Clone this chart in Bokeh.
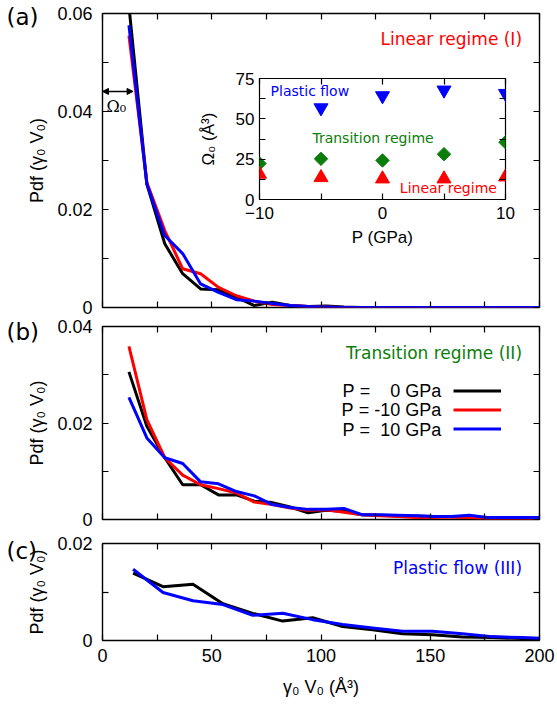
from bokeh.plotting import figure
from bokeh.layouts import column
from bokeh.models import (FixedTicker, LinearAxis, CustomJSTickFormatter, CustomLabelingPolicy,
                          Label, Arrow, NormalHead, Range1d, Legend, LegendItem)
from bokeh.core.properties import value
from bokeh.embed import file_html
from bokeh.resources import INLINE

# ---- panel (a) and (b): bin centres of gamma0*V0 (A^3) ----
gamma_ab = [12.1, 20.3, 28.5, 36.7, 44.9, 53.1, 61.3, 69.5, 77.7, 85.9, 94.1, 102.3,
            110.5, 118.7, 126.9, 135.1, 143.3, 151.5, 159.7, 167.9, 176.1, 184.3, 192.5, 200.7]

# (a) linear regime
pdf_a_p0 = [0.0615, 0.0252, 0.0130, 0.0069, 0.0038, 0.0036, 0.0021, 0.0004, 0.0011, 0.0004, 0.0002, 0.0003,
            0.0001, 0.0, 0.0, 0.0, 0.0, 0.0, 0.0, 0.0, 0.0, 0.0, 0.0, 0.0]
pdf_a_m10 = [0.0555, 0.0255, 0.0157, 0.0079, 0.0069, 0.0041, 0.0024, 0.0013, 0.0006, 0.0004, 0.0002, 0.0001,
             0.0, 0.0, 0.0, 0.0, 0.0, 0.0, 0.0, 0.0, 0.0, 0.0, 0.0, 0.0]
pdf_a_p10 = [0.0576, 0.0252, 0.0147, 0.0110, 0.0048, 0.0031, 0.0016, 0.0013, 0.0008, 0.0004, 0.0002, 0.0001,
             0.0, 0.0, 0.0, 0.0, 0.0, 0.0, 0.0, 0.0, 0.0, 0.0, 0.0, 0.0]

# (b) transition regime
pdf_b_p0 = [0.0306, 0.0193, 0.0128, 0.0072, 0.0072, 0.0051, 0.0051, 0.0038, 0.0035, 0.0026, 0.0014, 0.0019,
            0.0017, 0.0010, 0.0009, 0.0008, 0.0007, 0.0006, 0.0006, 0.0004, 0.0002, 0.0002, 0.0002, 0.0002]
pdf_b_m10 = [0.0359, 0.0207, 0.0128, 0.0092, 0.0072, 0.0064, 0.0055, 0.0036, 0.0031, 0.0024, 0.0019, 0.0020,
             0.0015, 0.0010, 0.0008, 0.0006, 0.0004, 0.0004, 0.0005, 0.0004, 0.0002, 0.0002, 0.0002, 0.0002]
pdf_b_p10 = [0.0253, 0.0169, 0.0128, 0.0116, 0.0078, 0.0074, 0.0058, 0.0049, 0.0031, 0.0025, 0.0021, 0.0021,
             0.0023, 0.0010, 0.0010, 0.0009, 0.0008, 0.0006, 0.0006, 0.0009, 0.0004, 0.0004, 0.0004, 0.0004]

# ---- panel (c): plastic flow ----
gamma_c = [14.0, 27.7, 41.4, 55.1, 68.8, 82.5, 96.2, 109.9, 123.6, 137.3, 151.0, 164.7, 178.4, 192.1, 205.8]
pdf_c_p0 = [0.0139, 0.0111, 0.0116, 0.0076, 0.0056, 0.0040, 0.0047, 0.0029, 0.0022, 0.0014, 0.0012,
            0.0007, 0.0006, 0.0004, 0.0003]
pdf_c_p10 = [0.0147, 0.0099, 0.0082, 0.0074, 0.0052, 0.0056, 0.0043, 0.0033, 0.0026, 0.0019, 0.0019,
             0.0014, 0.0008, 0.0006, 0.0004]

# ---- inset: Omega0 versus pressure ----
pressure = [-10, -5, 0, 5, 10]
omega_linear = [15.7, 13.6, 12.8, 12.8, 14.0]
omega_transition = [22.3, 25.2, 24.2, 28.1, 35.5]
pressure_plastic = [-5, 0, 5, 10]
omega_plastic = [56.8, 64.3, 67.8, 65.7]

omega0_mark = 14.0  # width of the Omega0 arrow in panel (a)

panel_tags = ["(a)", "(b)", "(c)"]
legend_labels = ["P =    0 GPa", "P = -10 GPa", "P =  10 GPa"]

BLACK, RED, BLUE, GREEN = "#000000", "#ff0000", "#0000ff", "#0a7d0a"
SANS = "Liberation Sans"
NOTE = "DejaVu Sans"

x_major = [0, 50, 100, 150, 200]
x_minor = [25, 75, 125, 175]

# mirrored axes carry tick marks only
no_labels = CustomLabelingPolicy(code="return new Set()")


def overlay(fig, left, top):
    """Float a figure over the stacked panels at a fixed position."""
    fig.frame_align = False
    fig.styles = {"position": "absolute", "left": f"{left}px", "top": f"{top}px"}


def style_axis(ax, labels=True, fs="18px", standoff=9):
    ax.major_tick_in = 6
    ax.major_tick_out = 0
    ax.minor_tick_in = 6
    ax.minor_tick_out = 0
    ax.major_tick_line_color = "black"
    ax.minor_tick_line_color = "black"
    ax.major_tick_line_width = 1.2
    ax.minor_tick_line_width = 1.2
    ax.axis_line_color = None
    if labels:
        ax.major_label_text_font = SANS
        ax.major_label_text_font_size = fs
        ax.major_label_text_color = "black"
        ax.major_label_standoff = standoff
    else:
        ax.major_label_policy = no_labels
        ax.major_label_text_font_size = "1px"
        ax.major_label_standoff = 0
    ax.axis_label_text_font = SANS
    ax.axis_label_text_font_size = fs
    ax.axis_label_text_font_style = "normal"
    ax.axis_label_text_color = "black"


def panel(height, top, bottom, y_end, y_major, y_minor, x_labels):
    p = figure(width=557, height=height, x_range=Range1d(0, 200), y_range=Range1d(0, y_end),
               output_backend="svg", toolbar_location=None,
               x_axis_type=None, y_axis_type=None,
               min_border_left=102, min_border_right=18,
               min_border_top=top, min_border_bottom=bottom)
    p.outline_line_color = "black"
    p.outline_line_width = 1.4
    p.background_fill_color = "white"
    p.border_fill_color = None

    xt = FixedTicker(ticks=x_major, minor_ticks=x_minor)
    yt = FixedTicker(ticks=y_major, minor_ticks=y_minor)

    xb = LinearAxis(ticker=xt)
    style_axis(xb, labels=x_labels, standoff=8)
    if x_labels:
        xb.formatter = CustomJSTickFormatter(code="return tick.toFixed(0);")
        xb.axis_label = "γ₀ V₀ (Å³)"
        xb.axis_label_standoff = 12
    p.add_layout(xb, "below")

    xa = LinearAxis(ticker=xt)
    style_axis(xa, labels=False)
    p.add_layout(xa, "above")

    yl = LinearAxis(ticker=yt)
    style_axis(yl, labels=True, standoff=10)
    yl.formatter = CustomJSTickFormatter(code="return tick == 0 ? '0' : tick.toFixed(2);")
    yl.axis_label = "Pdf (γ₀ V₀)"
    yl.axis_label_standoff = 7
    p.add_layout(yl, "left")

    yr = LinearAxis(ticker=yt)
    style_axis(yr, labels=False)
    p.add_layout(yr, "right")
    return p


def note(p, text, x, y, color, size="17px"):
    p.add_layout(Label(x=x, y=y, text=text, text_font=NOTE, text_font_size=size,
                       text_align="right", text_baseline="middle", text_color=color))


# ---------------- panel (a) ----------------
pa = panel(322, 13, 15, 0.06, [0, 0.02, 0.04, 0.06], [0.01, 0.03, 0.05], False)
pa.line(gamma_ab, pdf_a_p0, line_color=BLACK, line_width=3)
pa.line(gamma_ab, pdf_a_m10, line_color=RED, line_width=3)
pa.line(gamma_ab, pdf_a_p10, line_color=BLUE, line_width=3)
note(pa, "Linear regime (I)", 192, 0.0547, RED)
pa.add_layout(Arrow(start=NormalHead(size=6, fill_color="black", line_color="black"),
                    end=NormalHead(size=6, fill_color="black", line_color="black"),
                    x_start=0, y_start=0.0441, x_end=omega0_mark, y_end=0.0441,
                    line_width=1.5, line_color="black"))
pa.add_layout(Label(x=1.8, y=0.0410, text="Ω₀", text_font="DejaVu Serif", text_font_size="16px",
                    text_align="left", text_baseline="middle", text_color="black"))

# ---------------- panel (b) ----------------
# pulled up so its top margin overlaps the bottom margin of panel (a)
pb = panel(222, 16, 13, 0.04, [0, 0.02, 0.04], [0.01, 0.03], False)
pb.margin = (-12, 0, 0, 0)
rb0 = pb.line(gamma_ab, pdf_b_p0, line_color=BLACK, line_width=3)
rbm = pb.line(gamma_ab, pdf_b_m10, line_color=RED, line_width=3)
rbp = pb.line(gamma_ab, pdf_b_p10, line_color=BLUE, line_width=3)
note(pb, "Transition regime (II)", 192, 0.0345, GREEN)

legend_rows = [0.0266, 0.0226, 0.0186]
for txt, yy in zip(legend_labels, legend_rows):
    pb.add_layout(Label(x=155, y=yy, text=txt.replace(" ", "\u00a0"), text_font=SANS,
                        text_font_size="18px", text_align="right", text_baseline="middle",
                        text_color="black"))
key = Legend(items=[LegendItem(label=" ", renderers=[rb0]),
                    LegendItem(label=" ", renderers=[rbm]),
                    LegendItem(label=" ", renderers=[rbp])],
             location=(351, 81), glyph_width=48, glyph_height=19, label_height=19,
             label_width=0, label_standoff=0, spacing=0, padding=0, margin=0,
             label_text_font_size="1px", background_fill_alpha=0, border_line_alpha=0)
pb.add_layout(key, "center")

# ---------------- panel (c) ----------------
pc = panel(178, 17, 64, 0.02, [0, 0.02], [0.01], True)
pc.margin = (-6, 0, 0, 0)
pc.line(gamma_c, pdf_c_p0, line_color=BLACK, line_width=3)
pc.line(gamma_c, pdf_c_p10, line_color=BLUE, line_width=3)
note(pc, "Plastic flow (III)", 192, 0.0150, BLUE)

# ---------------- inset ----------------
ins = figure(width=329, height=183, x_range=Range1d(-10, 10), y_range=Range1d(0, 75),
             output_backend="svg", toolbar_location=None, x_axis_type=None, y_axis_type=None,
             min_border_left=69, min_border_right=14, min_border_top=10, min_border_bottom=52,
             background_fill_color=None, border_fill_color=None)
ins.outline_line_color = "black"
ins.outline_line_width = 1.2
overlay(ins, 190, 68)

ixt = FixedTicker(ticks=[-10, 0, 10], minor_ticks=[-5, 5])
iyt = FixedTicker(ticks=[0, 25, 50, 75], minor_ticks=[12.5, 37.5, 62.5])
ixb = LinearAxis(ticker=ixt, axis_label="P (GPa)")
style_axis(ixb, fs="17px", standoff=7)
ixb.axis_label_standoff = 6
ixb.formatter = CustomJSTickFormatter(code="return tick < 0 ? '\u2212' + Math.abs(tick) : String(tick);")
ins.add_layout(ixb, "below")
ixa = LinearAxis(ticker=ixt)
style_axis(ixa, labels=False)
ins.add_layout(ixa, "above")
iyl = LinearAxis(ticker=iyt, axis_label="Ω₀ (Å³)")
style_axis(iyl, fs="17px", standoff=5)
iyl.axis_label_standoff = 15
ins.add_layout(iyl, "left")
iyr = LinearAxis(ticker=iyt)
style_axis(iyr, labels=False)
ins.add_layout(iyr, "right")

ins.scatter(pressure_plastic, omega_plastic, marker="inverted_triangle", size=14,
            fill_color=BLUE, line_color=BLUE)
ins.scatter(pressure, omega_transition, marker="square", angle=0.785398, size=9.5,
            fill_color=GREEN, line_color=GREEN)
ins.scatter(pressure, omega_linear, marker="triangle", size=14, fill_color=RED, line_color=RED)

ins.add_layout(Label(x=-9.1, y=67, text="Plastic flow", text_font=NOTE, text_font_size="14px",
                     text_align="left", text_baseline="middle", text_color=BLUE))
ins.add_layout(Label(x=-5.7, y=38, text="Transition regime", text_font=NOTE, text_font_size="14px",
                     text_align="left", text_baseline="middle", text_color=GREEN))
ins.add_layout(Label(x=9.3, y=7, text="Linear regime", text_font=NOTE, text_font_size="14px",
                     text_align="right", text_baseline="middle", text_color=RED))

# ---------------- panel tags in the left margin (page pixel coordinates) ----------------
tags = figure(width=50, height=704, x_range=Range1d(0, 50), y_range=Range1d(704, 0),
              output_backend="svg", toolbar_location=None, x_axis_type=None, y_axis_type=None,
              min_border=0, background_fill_color=None, border_fill_color=None)
tags.outline_line_color = None
overlay(tags, 0, 0)
tags.text(x=[6, 6, 6], y=[16, 331, 550], text=panel_tags, text_font=value(NOTE),
          text_font_size="23px", text_align="left", text_baseline="middle", text_color="black")

layout = column(pa, pb, pc, ins, tags, spacing=0)

open("out.html", "w").write(file_html(layout, INLINE))
